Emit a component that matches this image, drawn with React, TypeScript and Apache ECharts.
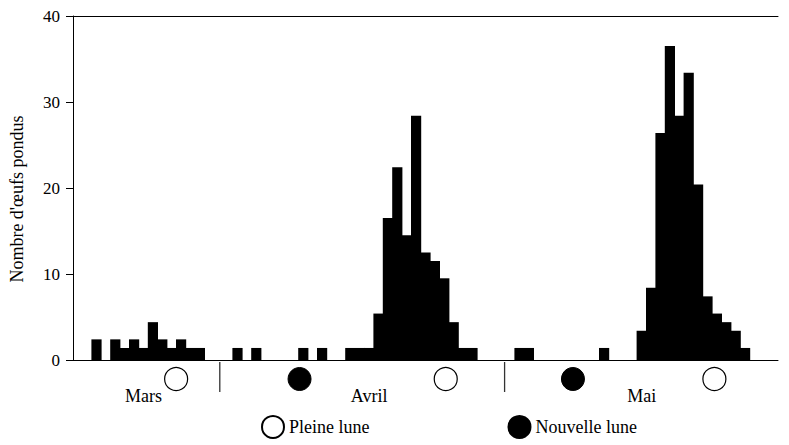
import React, { useEffect, useRef } from "react";
import * as echarts from "echarts";

// 75 days: 16 mars -> 29 mai
const monthDays = [
  { name: "Mars", first: 16, last: 31 },
  { name: "Avril", first: 1, last: 30 },
  { name: "Mai", first: 1, last: 29 },
];
const days: string[] = [];
monthDays.forEach((m) => {
  for (let d = m.first; d <= m.last; d++) days.push(d + " " + m.name);
});

const eggs = [
  0, 0, 2.4, 0, 2.4, 1.4, 2.4, 1.4, 4.4, 2.4, 1.4, 2.4, 1.4, 1.4, 0, 0,
  0, 1.4, 0, 1.4, 0, 0, 0, 0, 1.4, 0, 1.4, 0, 0, 1.4, 1.4, 1.4, 5.4, 16.5, 22.4, 14.5,
  28.4, 12.5, 11.5, 9.5, 4.4, 1.4, 1.4, 0, 0, 0,
  0, 1.4, 1.4, 0, 0, 0, 0, 0, 0, 0, 1.4, 0, 0, 0, 3.4, 8.4, 26.4, 36.5, 28.4, 33.4,
  20.4, 7.4, 5.4, 4.4, 3.4, 1.4, 0, 0, 0,
];

// month label positions (day index) and month separators (day position)
const monthLabelIndex: Record<number, string> = { 7: "Mars", 31: "Avril", 60: "Mai" };
const separators = [16.2, 46.2];

// moon phases (position in days from start)
const fullMoons = [11.6, 40.0, 68.3];
const newMoons = [24.6, 53.4];

const yTicks = { min: 0, max: 40, interval: 10 };

const FONT = "Liberation Serif";

export default function App() {
  const ref = useRef<HTMLDivElement>(null);
  useEffect(() => {
    if (!ref.current) return;
    const chart = echarts.init(ref.current, undefined, { renderer: "svg" });
    chart.setOption({
      animation: false,
      backgroundColor: "#fff",
      textStyle: { fontFamily: FONT, color: "#000" },
      grid: [
        { left: 66, right: 11, top: 16, bottom: 85 },
        { left: 66, right: 11, top: 366, height: 26 },
      ],
      legend: {
        data: ["Pleine lune", "Nouvelle lune"],
        left: 256,
        top: 410,
        itemWidth: 22,
        itemHeight: 22,
        itemGap: 138,
        textStyle: { fontFamily: FONT, fontSize: 18, color: "#000" },
      },
      xAxis: [
        {
          type: "category",
          gridIndex: 0,
          data: days,
          boundaryGap: true,
          axisLine: { lineStyle: { color: "#000", width: 1 } },
          axisTick: { show: false },
          axisLabel: {
            interval: (i: number) => monthLabelIndex[i] !== undefined,
            formatter: (_v: string, i: number) => monthLabelIndex[i] || "",
            margin: 27,
            fontSize: 18,
            fontFamily: FONT,
            color: "#000",
          },
        },
        {
          type: "value",
          gridIndex: 0,
          position: "top",
          axisLine: { show: true, lineStyle: { color: "#000", width: 1 } },
          axisTick: { show: false },
          axisLabel: { show: false },
          splitLine: { show: false },
        },
        {
          type: "value",
          gridIndex: 1,
          min: 0,
          max: days.length,
          show: false,
        },
      ],
      yAxis: [
        {
          type: "value",
          gridIndex: 0,
          min: yTicks.min,
          max: yTicks.max,
          interval: yTicks.interval,
          name: "Nombre d'œufs pondus",
          nameLocation: "middle",
          nameGap: 47,
          nameTextStyle: {
            fontFamily: FONT,
            fontSize: 18,
            color: "#000",
            padding: [0, 22, 0, 0],
          },
          axisLine: { show: true, lineStyle: { color: "#000", width: 1 } },
          axisTick: { show: true, length: 7, lineStyle: { color: "#000" } },
          axisLabel: { fontSize: 17, fontFamily: FONT, color: "#000", margin: 13 },
          splitLine: { show: false },
        },
        { type: "value", gridIndex: 1, min: -1, max: 1, show: false },
      ],
      series: [
        {
          name: "Œufs",
          type: "custom",
          xAxisIndex: 0,
          yAxisIndex: 0,
          data: eggs.map((v, i) => [i, v]),
          encode: { x: 0, y: 1 },
          renderItem: (_params: any, api: any) => {
            const v = api.value(1);
            if (!v) return null;
            const top = api.coord([api.value(0), v]);
            const base = api.coord([api.value(0), 0]);
            const w = api.size([1, 0])[0];
            return {
              type: "rect",
              shape: {
                x: top[0] - w / 2 - 0.4,
                y: top[1],
                width: w + 0.8,
                height: base[1] - top[1],
              },
              style: { fill: "#000" },
            };
          },
        },
        {
          name: "Pleine lune",
          type: "scatter",
          xAxisIndex: 2,
          yAxisIndex: 1,
          data: fullMoons.map((x) => [x, 0]),
          symbol: "circle",
          symbolSize: 23,
          itemStyle: { color: "#fff", borderColor: "#000", borderWidth: 1.2, opacity: 1 },
          clip: false,
        },
        {
          name: "Nouvelle lune",
          type: "scatter",
          xAxisIndex: 2,
          yAxisIndex: 1,
          data: newMoons.map((x) => [x, 0]),
          symbol: "circle",
          symbolSize: 23,
          itemStyle: { color: "#000", borderColor: "#000", borderWidth: 1, opacity: 1 },
          clip: false,
        },
        {
          name: "séparateur",
          type: "scatter",
          xAxisIndex: 2,
          yAxisIndex: 1,
          data: separators.map((x) => [x, 0]),
          symbol: "rect",
          symbolSize: [1.3, 30],
          symbolOffset: [0, -2],
          itemStyle: { color: "#333", opacity: 1 },
          clip: false,
          silent: true,
        },
      ],
    });
    return () => chart.dispose();
  }, []);
  return (
    <div
      ref={ref}
      style={{ position: "fixed", left: 0, top: 0, width: 789, height: 445 }}
    />
  );
}
